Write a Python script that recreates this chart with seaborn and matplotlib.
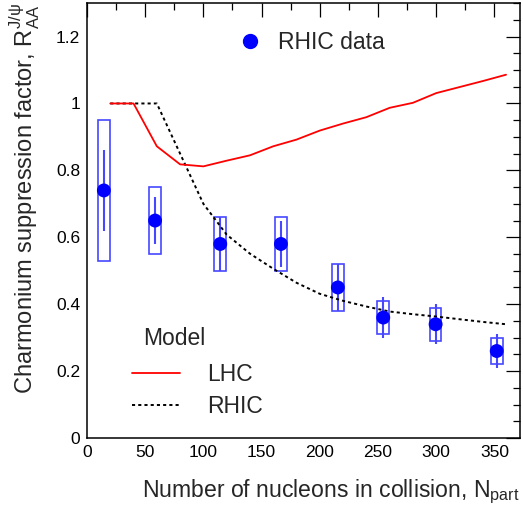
import numpy as np
import pandas as pd
import seaborn as sns
import matplotlib
matplotlib.use("Agg")
import matplotlib.pyplot as plt
from matplotlib.lines import Line2D
from matplotlib.ticker import MultipleLocator, FormatStrFormatter

# RHIC J/psi data
npart = [14.5, 58.5, 114.5, 166.6, 215.5, 254.5, 299.5, 352.0]
raa = [0.74, 0.65, 0.58, 0.58, 0.45, 0.36, 0.34, 0.26]
stat_lo = [0.62, 0.58, 0.50, 0.51, 0.38, 0.30, 0.28, 0.21]
stat_hi = [0.86, 0.72, 0.66, 0.65, 0.52, 0.42, 0.40, 0.31]
sys_lo = [0.53, 0.55, 0.50, 0.50, 0.38, 0.31, 0.29, 0.22]
sys_hi = [0.95, 0.75, 0.66, 0.66, 0.52, 0.41, 0.39, 0.30]

# model curves
model_x = [20, 40, 60, 80, 100, 120, 140, 160, 180, 200, 220, 240, 260, 280, 300, 320, 340, 360]
lhc = [1.0, 1.0, 0.872, 0.818, 0.812, 0.829, 0.845, 0.872, 0.892, 0.919, 0.940, 0.959,
       0.987, 1.002, 1.031, 1.049, 1.067, 1.086]
rhic = [1.0, 1.0, 1.0, 0.85, 0.70, 0.608, 0.551, 0.506, 0.464, 0.431, 0.410, 0.393,
        0.378, 0.370, 0.363, 0.355, 0.347, 0.340]

data = pd.DataFrame({"npart": npart, "raa": raa, "stat_lo": stat_lo, "stat_hi": stat_hi,
                     "sys_lo": sys_lo, "sys_hi": sys_hi})
models = pd.DataFrame({"npart": model_x, "LHC": lhc, "RHIC": rhic})

sns.set_theme(style="white")
plt.rcParams["font.family"] = ["Liberation Sans", "DejaVu Sans"]
plt.rcParams["mathtext.fontset"] = "custom"
plt.rcParams["mathtext.rm"] = "Liberation Sans"
plt.rcParams["mathtext.it"] = "Liberation Sans:italic"

fig = plt.figure(figsize=(5.23, 5.11), dpi=100)
ax = fig.add_axes([0.1663, 0.1429, 0.828, 0.851])

blue = "#0000ff"
box_col = "#4747ff"

# systematic boxes + stat bars
ax.bar(data["npart"], data["sys_hi"] - data["sys_lo"], bottom=data["sys_lo"], width=10,
       fill=False, edgecolor=box_col, linewidth=1.2, zorder=2)
ax.vlines(data["npart"], data["stat_lo"], data["stat_hi"], color=box_col, linewidth=1.5, zorder=2)

# model lines
dash = (0, (1.6, 1.6))
sns.lineplot(data=models, x="npart", y="RHIC", color="black", linewidth=1.4,
             linestyle=dash, ax=ax, zorder=3)
sns.lineplot(data=models, x="npart", y="LHC", color="red", linewidth=1.3, ax=ax, zorder=4)

sns.scatterplot(data=data, x="npart", y="raa", color=blue, s=100, edgecolor="none",
                ax=ax, zorder=5)

ax.set_xlim(0, 372)
ax.set_ylim(0, 1.3)

ax.xaxis.set_major_locator(MultipleLocator(50))
ax.xaxis.set_minor_locator(MultipleLocator(25))
ax.yaxis.set_major_locator(MultipleLocator(0.2))
ax.yaxis.set_minor_locator(MultipleLocator(0.05))
ax.yaxis.set_major_formatter(FormatStrFormatter("%g"))
ax.tick_params(which="both", direction="in", top=True, right=True, colors="black",
               width=0.9, labelsize=12.5)
ax.tick_params(which="major", length=10, pad=5)
ax.tick_params(which="minor", length=5)
for sp in ax.spines.values():
    sp.set_color("black")
    sp.set_linewidth(1.1)

ax.set_xlabel("Number of nucleons in collision, N$_{\\mathrm{part}}$", fontsize=16.6,
              loc="right", labelpad=13)
ax.set_ylabel("Charmonium suppression factor, $\\mathrm{R}_{\\mathrm{AA}}^{\\mathrm{J/\\psi}}$",
              fontsize=17, loc="top", labelpad=10)

# legends
h_data = [Line2D([], [], color=blue, marker="o", markersize=10, linestyle="none")]
leg1 = ax.legend(h_data, ["RHIC data"], loc="center left", bbox_to_anchor=(0.350, 0.909),
                 frameon=False, fontsize=16.5, handlelength=1.0, handletextpad=0.72,
                 borderpad=0, borderaxespad=0)
ax.add_artist(leg1)

h_mod = [Line2D([], [], color="red", linewidth=1.3),
         Line2D([], [], color="black", linewidth=1.4, linestyle=dash)]
ax.legend(h_mod, ["LHC", "RHIC"], loc="center left", bbox_to_anchor=(0.104, 0.109),
          frameon=False, fontsize=16.5, handlelength=2.1, handletextpad=1.18,
          labelspacing=0.42, borderpad=0, borderaxespad=0)
ax.text(0.129, 0.228, "Model", transform=ax.transAxes, fontsize=16.5, va="center", ha="left")

fig.savefig("out.png", dpi=100)
